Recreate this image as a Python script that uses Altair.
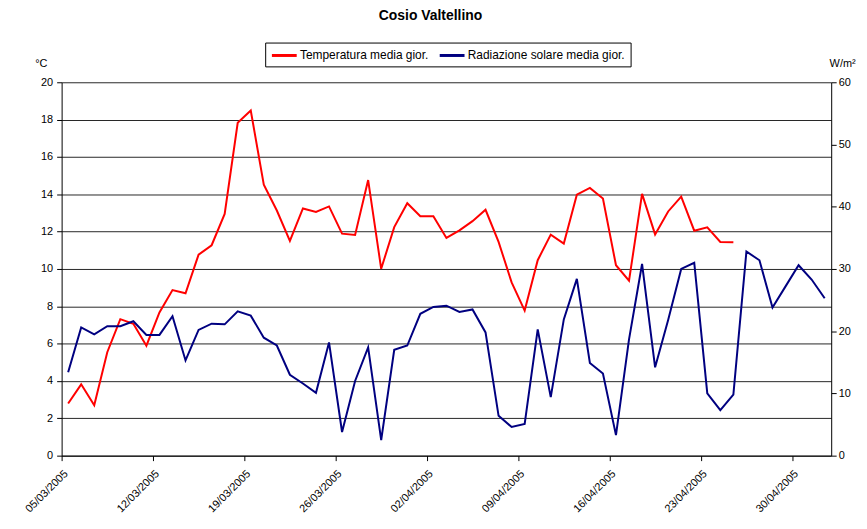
import altair as alt
import pandas as pd

# ---- data ----
temp_label = "Temperatura media gior."
rad_label = "Radiazione solare media gior."

temperatura = [2.79, 3.82, 2.70, 5.54, 7.31, 7.06, 5.89, 7.67, 8.87, 8.70,
               10.77, 11.27, 12.95, 17.83, 18.49, 14.52, 13.13, 11.50, 13.24, 13.06,
               13.35, 11.89, 11.82, 14.76, 10.01, 12.24, 13.52, 12.83, 12.83, 11.66,
               12.07, 12.56, 13.17, 11.45, 9.28, 7.77, 10.47, 11.84, 11.36, 13.98,
               14.34, 13.77, 10.20, 9.37, 14.02, 11.85, 13.08, 13.88, 12.05, 12.23,
               11.45, 11.43]

radiazione = [13.4, 20.6, 19.5, 20.8, 20.8, 21.6, 19.4, 19.4, 22.4, 15.3,
              20.2, 21.2, 21.1, 23.2, 22.5, 18.95, 17.7, 13.0, 11.6, 10.1,
              18.2, 3.8, 12.0, 17.4, 2.5, 17.0, 17.7, 22.8, 23.9, 24.1,
              23.1, 23.5, 19.8, 6.4, 4.6, 5.1, 20.3, 9.4, 21.9, 28.4,
              14.9, 13.2, 3.3, 18.7, 30.8, 14.2, 21.8, 30.0, 31.0, 10.0,
              7.3, 9.8, 32.8, 31.4, 23.8, 27.2, 30.6, 28.3, 25.3]

# weekly tick dates (year, month, day)
tick_dates = [(2005, 3, 5), (2005, 3, 12), (2005, 3, 19), (2005, 3, 26),
              (2005, 4, 2), (2005, 4, 9), (2005, 4, 16), (2005, 4, 23), (2005, 4, 30)]
domain_start = (2005, 3, 5)
domain_end = (2005, 5, 3)

# ---- tables ----
days = pd.date_range("2005-03-05 12:00", periods=len(radiazione), freq="D")
df_t = pd.DataFrame({"data": days[:len(temperatura)], "valore": temperatura,
                     "serie": temp_label})
df_r = pd.DataFrame({"data": days[:len(radiazione)], "valore": radiazione,
                     "serie": rad_label})


def dt(t):
    return alt.DateTime(year=t[0], month=t[1], date=t[2])


font = "Liberation Sans"

x_enc = alt.X(
    "data:T",
    scale=alt.Scale(domain=[dt(domain_start), dt(domain_end)]),
    axis=alt.Axis(values=[dt(t) for t in tick_dates], format="%d/%m/%Y",
                  labelAngle=-45, grid=False, title=None, tickSize=5,
                  labelPadding=7, labelFontSize=11),
)

color_enc = alt.Color(
    "serie:N",
    scale=alt.Scale(domain=[temp_label, rad_label], range=["#ff0000", "#000080"]),
    legend=alt.Legend(title=None, orient="none", legendX=205, legendY=-40,
                      direction="horizontal", strokeColor="black", padding=5,
                      symbolType="M-1,0H3", symbolSize=156, symbolStrokeWidth=3,
                      labelFontSize=12, labelLimit=300, columnPadding=4,
                      labelOffset=14),
)

temp_line = alt.Chart(df_t).mark_line(strokeWidth=2).encode(
    x=x_enc,
    y=alt.Y("valore:Q", scale=alt.Scale(domain=[0, 20], nice=False),
            axis=alt.Axis(values=list(range(0, 21, 2)), grid=True, gridColor="black",
                          gridOpacity=0.85, title="°C", titleAngle=0, titleX=-21,
                          titleY=-19, titleAlign="center", titleBaseline="middle",
                          titleFontWeight="normal", titleFontSize=11, tickSize=5,
                          labelPadding=4, labelFontSize=11)),
    color=color_enc,
)

rad_line = alt.Chart(df_r).mark_line(strokeWidth=2).encode(
    x=x_enc,
    y=alt.Y("valore:Q", scale=alt.Scale(domain=[0, 60], nice=False),
            axis=alt.Axis(orient="right", values=list(range(0, 61, 10)), grid=False,
                          title="W/m²", titleAngle=0, titleX=11, titleY=-19,
                          titleAlign="center", titleBaseline="middle",
                          titleFontWeight="normal", titleFontSize=11, tickSize=5,
                          labelPadding=2, labelFontSize=11)),
    color=color_enc,
)

chart = alt.layer(temp_line, rad_line).resolve_scale(y="independent").properties(
    width=775,
    height=376,
    autosize=alt.AutoSizeParams(type="none"),
    padding={"left": 54, "top": 73, "right": 28, "bottom": 63},
    title=alt.Title("Cosio Valtellino", fontSize=14, fontWeight="bold",
                    anchor="middle", dx=-16, offset=19, font=font),
).configure(font=font).configure_view(stroke=None).configure_axis(
    domainColor="black", tickColor="black", labelColor="black", titleColor="black",
    labelFont=font, titleFont=font,
).configure_legend(labelFont=font, labelColor="black")

chart.save("out.html", embed_options={"renderer": "svg", "actions": False})
